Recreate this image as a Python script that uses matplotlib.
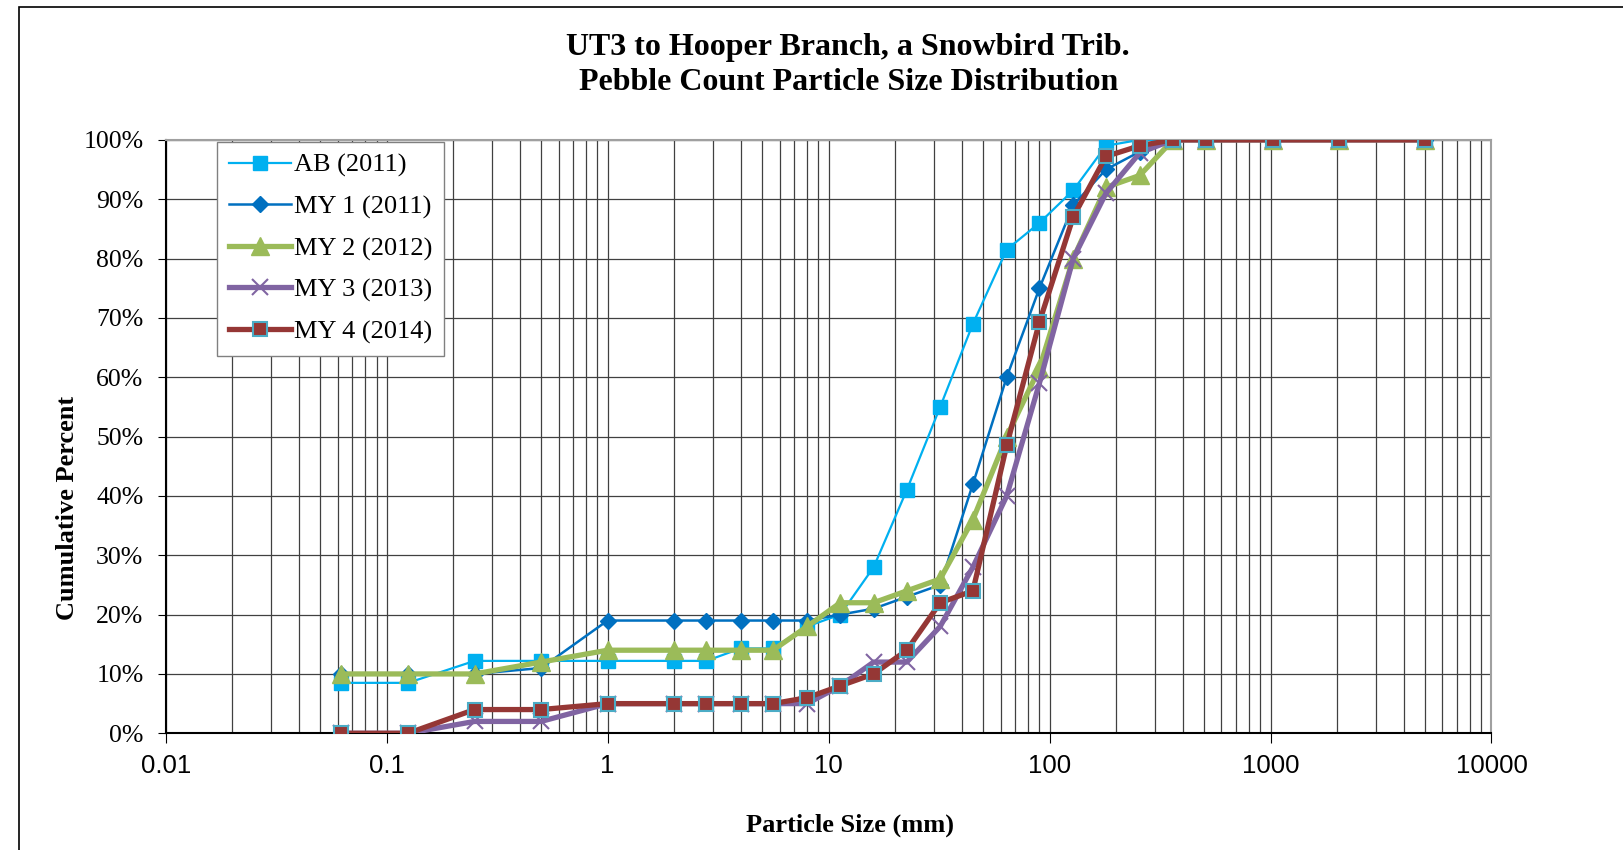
import matplotlib.pyplot as plt
from matplotlib.ticker import FixedLocator, FuncFormatter, LogLocator, NullFormatter
from matplotlib.patches import Rectangle

# sieve sizes (mm) and cumulative percent finer for each survey
sizes = [0.062, 0.125, 0.25, 0.5, 1, 2, 2.8, 4, 5.6, 8, 11.3, 16, 22.6, 32,
         45, 64, 90, 128, 180, 256, 362, 512, 1024, 2048, 5000]
ab_2011 = [8.5, 8.5, 12.2, 12.2, 12.2, 12.2, 12.2, 14.3, 14.3, 18, 20, 28, 41, 55,
           69, 81.5, 86, 91.5, 99, 100, 100, 100, 100, 100, 100]
my1_2011 = [10, 10, 10, 11, 19, 19, 19, 19, 19, 19, 20, 21, 23, 25,
            42, 60, 75, 89, 95, 98, 100, 100, 100, 100, 100]
my2_2012 = [10, 10, 10, 12, 14, 14, 14, 14, 14, 18, 22, 22, 24, 26,
            36, 50, 61.5, 80, 92, 94, 100, 100, 100, 100, 100]
my3_2013 = [0, 0, 2, 2, 5, 5, 5, 5, 5, 5, 8, 12, 12, 18,
            28, 40, 59, 80, 91, 97.8, 100, 100, 100, 100, 100]
my4_2014 = [0, 0, 4, 4, 5, 5, 5, 5, 5, 6, 8, 10, 14, 22,
            24, 48.5, 69.3, 87, 97.2, 99, 100, 100, 100, 100, 100]
decades = [0.01, 0.1, 1, 10, 100, 1000, 10000]

serif = 'Liberation Serif'
sans = 'Liberation Sans'

fig = plt.figure(figsize=(16.24, 8.5), dpi=100)
ax = fig.add_axes([0.102, 0.1373, 0.8164, 0.6982])

# chart-area border
fig.patches.append(Rectangle((19 / 1624, -0.1), 1.2, 1 - 7 / 850 + 0.1,
                             transform=fig.transFigure, fill=False,
                             edgecolor='black', linewidth=1.2))

ax.plot(sizes, ab_2011, color='#00B0F0', lw=1.6, marker='s', ms=10,
        mfc='#00B0F0', mec='#00B0F0', label='AB (2011)', zorder=3)
ax.plot(sizes, my1_2011, color='#0070C0', lw=1.8, marker='D', ms=8,
        mfc='#0070C0', mec='#0070C0', label='MY 1 (2011)', zorder=4)
ax.plot(sizes, my2_2012, color='#9BBB59', lw=3.8, marker='^', ms=13,
        mfc='#9BBB59', mec='#9BBB59', label='MY 2 (2012)', zorder=5)
ax.plot(sizes, my3_2013, color='#8064A2', lw=3.8, marker='x', ms=12, mew=1.5,
        mec='#8064A2', label='MY 3 (2013)', zorder=6)
ax.plot(sizes, my4_2014, color='#953735', lw=3.8, marker='s', ms=10, mew=1.5,
        mfc='#953735', mec='#4BACC6', label='MY 4 (2014)', zorder=7)

ax.set_xscale('log')
ax.set_xlim(0.01, 10000)
ax.set_ylim(0, 100)
ax.xaxis.set_major_locator(FixedLocator(decades))
ax.xaxis.set_minor_locator(LogLocator(base=10, subs=range(2, 10), numticks=100))
ax.xaxis.set_minor_formatter(NullFormatter())
ax.xaxis.set_major_formatter(FuncFormatter(lambda v, p: f'{v:g}'))
ax.yaxis.set_major_locator(FixedLocator(range(0, 101, 10)))
ax.yaxis.set_major_formatter(FuncFormatter(lambda v, p: f'{int(v)}%'))

ax.grid(True, which='major', axis='both', color='#404040', lw=0.9)
ax.grid(True, which='minor', axis='x', color='#404040', lw=0.9)
ax.set_axisbelow(True)

for lbl in ax.get_xticklabels():
    lbl.set_fontfamily(sans)
    lbl.set_fontsize(18.5)
for lbl in ax.get_yticklabels():
    lbl.set_fontfamily(serif)
    lbl.set_fontsize(18.5)
ax.tick_params(axis='x', which='major', length=7, pad=8, color='black')
ax.tick_params(axis='x', which='minor', length=0)
ax.tick_params(axis='y', length=6, pad=10)

for side in ('left', 'bottom'):
    ax.spines[side].set_color('black')
    ax.spines[side].set_linewidth(1.5)
for side in ('top', 'right'):
    ax.spines[side].set_color('#A0A0A0')
    ax.spines[side].set_linewidth(1.5)

fig.text(0.5223, 0.944, 'UT3 to Hooper Branch, a Snowbird Trib.', ha='center', va='center',
         fontfamily=serif, fontweight='bold', fontsize=23)
fig.text(0.5223, 0.903, 'Pebble Count Particle Size Distribution', ha='center', va='center',
         fontfamily=serif, fontweight='bold', fontsize=23)
fig.text(0.0413, 0.402, 'Cumulative Percent', ha='center', va='center', rotation=90,
         fontfamily=serif, fontweight='bold', fontsize=19)
fig.text(0.5236, 0.029, 'Particle Size (mm)', ha='center', va='center',
         fontfamily=serif, fontweight='bold', fontsize=19)

leg = ax.legend(loc='upper left', bbox_to_anchor=(0.039, 0.997), prop={'family': serif, 'size': 19},
                fancybox=False, framealpha=1, edgecolor='#808080', handlelength=2.35,
                handletextpad=0.1, borderpad=0.45, labelspacing=0.67, borderaxespad=0)
leg.get_frame().set_linewidth(1.0)

fig.savefig('out.png', dpi=100)
